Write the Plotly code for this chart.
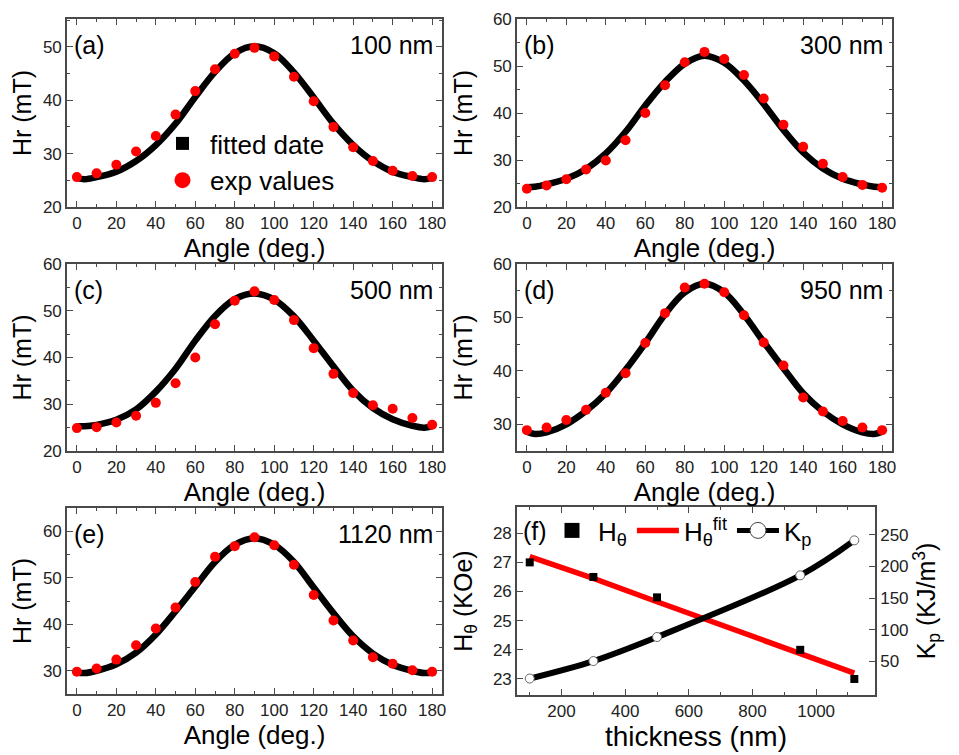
import plotly.graph_objects as go

# ---------------- data ----------------
angles = list(range(0, 181, 10))
fit_angles = [0, 4] + list(range(10, 171, 10)) + [176, 180]

exp_a = [25.6, 26.3, 27.9, 30.4, 33.3, 37.3, 41.7, 45.8, 48.7, 49.8, 48.2, 44.4, 39.8, 35.0, 31.2, 28.6, 26.8, 25.8, 25.6]
fit_a = [25.4, 25.2, 25.6, 26.6, 28.6, 31.6, 35.6, 40.6, 45.3, 48.8, 50.1, 48.8, 45.2, 40.5, 35.6, 31.6, 28.6, 26.6, 25.6, 25.2, 25.4]

exp_b = [23.9, 24.6, 25.9, 28.0, 29.9, 34.2, 40.0, 45.9, 50.8, 53.0, 51.5, 48.1, 43.1, 37.5, 32.8, 29.2, 26.4, 24.7, 24.1]
fit_b = [24.2, 24.3, 24.8, 26.0, 28.1, 31.4, 36.0, 41.6, 46.6, 50.5, 52.2, 50.7, 46.9, 41.9, 36.4, 31.6, 28.2, 26.0, 24.8, 24.3, 24.2]

exp_c = [24.9, 25.1, 26.1, 27.55, 30.3, 34.5, 40.0, 47.1, 52.15, 54.15, 52.3, 48.0, 42.0, 36.5, 32.4, 29.8, 29.05, 27.05, 25.6]
fit_c = [25.3, 25.3, 25.6, 26.7, 28.9, 32.7, 37.6, 43.6, 48.9, 52.5, 53.7, 52.4, 48.8, 43.6, 38.1, 32.9, 29.2, 26.8, 25.4, 25.0, 25.3]

exp_d = [28.9, 29.4, 30.8, 32.7, 35.9, 39.55, 45.2, 50.8, 55.6, 56.3, 54.7, 50.4, 45.3, 41.0, 35.0, 32.4, 30.6, 29.4, 28.9]
fit_d = [28.6, 28.2, 28.5, 30.0, 32.5, 35.8, 40.2, 45.2, 50.6, 54.7, 56.3, 54.7, 50.5, 45.4, 40.5, 35.8, 32.4, 30.0, 28.5, 28.2, 28.6]

exp_e = [29.8, 30.5, 32.4, 35.5, 39.1, 43.6, 49.1, 54.5, 56.8, 58.7, 57.0, 52.8, 46.3, 40.8, 36.5, 32.9, 31.5, 30.1, 29.8]
fit_e = [29.6, 29.5, 30.0, 31.4, 33.9, 37.8, 42.8, 48.1, 53.4, 57.1, 58.5, 57.1, 53.4, 47.9, 42.4, 37.4, 33.7, 31.3, 30.0, 29.5, 29.6]

thickness = [100, 300, 500, 950, 1120]
h_theta = [27.0, 26.5, 25.8, 24.0, 23.0]
h_theta_fit = [27.2, 26.45, 25.65, 23.85, 23.2]
kp = [23, 50.6, 88.6, 186, 241.3]

panel_labels = ["(a)", "(b)", "(c)", "(d)", "(e)", "(f)"]
thick_labels = ["100 nm", "300 nm", "500 nm", "950 nm", "1120 nm"]

# ---------------- layout helpers ----------------
W, H = 959, 755
FONT = "Liberation Sans, Arial, sans-serif"
FRAME = "#4a4a4a"


def px(x):
    return x / W


def py(y):
    return 1 - y / H


panels = [
    dict(xd=(67, 442), yd=(19, 207), yr=[20, 55.2], yt=[20, 30, 40, 50], exp=exp_a, fit=fit_a, tstand=4),
    dict(xd=(517, 892), yd=(19, 207), yr=[20, 60], yt=[20, 30, 40, 50, 60], exp=exp_b, fit=fit_b, tstand=13),
    dict(xd=(67, 442), yd=(264, 451), yr=[20, 60], yt=[20, 30, 40, 50, 60], exp=exp_c, fit=fit_c, tstand=4),
    dict(xd=(517, 892), yd=(264, 451), yr=[25, 60], yt=[30, 40, 50, 60], exp=exp_d, fit=fit_d, tstand=13),
    dict(xd=(67, 442), yd=(508, 694), yr=[25, 65], yt=[30, 40, 50, 60], exp=exp_e, fit=fit_e, tstand=4),
]

fig = go.Figure()
layout = dict(
    width=W, height=H,
    margin=dict(l=0, r=0, t=0, b=0, autoexpand=False),
    paper_bgcolor="white", plot_bgcolor="white",
    font=dict(family=FONT, color="black"),
    annotations=[],
)

axis_common = dict(
    automargin=False,
    showline=True, linecolor=FRAME, linewidth=1.6, mirror="ticks",
    ticks="inside", ticklen=6, tickwidth=1.3, tickcolor=FRAME,
    showgrid=False, zeroline=False,
    tickfont=dict(family=FONT, size=17, color="#222"),
)

for i, p in enumerate(panels):
    n = i + 1
    xa = "xaxis" if n == 1 else f"xaxis{n}"
    ya = "yaxis" if n == 1 else f"yaxis{n}"
    xr = "x" if n == 1 else f"x{n}"
    yr = "y" if n == 1 else f"y{n}"
    layout[xa] = dict(
        axis_common,
        domain=[px(p["xd"][0]), px(p["xd"][1])],
        anchor=yr, range=[-5, 185],
        tickvals=list(range(0, 181, 20)),
        minor=dict(dtick=10, tick0=0, ticks="inside", ticklen=3, tickcolor=FRAME),
        title=dict(text="Angle (deg.)", font=dict(family=FONT, size=26), standoff=6),
    )
    layout[ya] = dict(
        axis_common,
        domain=[py(p["yd"][1]), py(p["yd"][0])],
        anchor=xr, range=p["yr"], tickvals=p["yt"],
        minor=dict(dtick=5, tick0=0, ticks="inside", ticklen=3, tickcolor=FRAME),
        title=dict(text="Hr (mT)", font=dict(family=FONT, size=25), standoff=p["tstand"]),
    )
    fig.add_trace(go.Scatter(
        x=fit_angles, y=p["fit"], mode="lines",
        line=dict(color="black", width=6.5, shape="spline"),
        showlegend=False, xaxis=xr, yaxis=yr, hoverinfo="skip",
    ))
    fig.add_trace(go.Scatter(
        x=angles, y=p["exp"], mode="markers",
        marker=dict(color="#ff0000", size=10, symbol="circle"),
        showlegend=False, xaxis=xr, yaxis=yr,
    ))
    # panel label and thickness label
    layout["annotations"].append(dict(
        text=panel_labels[i], xref="paper", yref="paper",
        x=px(p["xd"][0] + 5), y=py(p["yd"][0] + 26), xanchor="left", yanchor="middle",
        showarrow=False, font=dict(family=FONT, size=25, color="black"),
    ))
    layout["annotations"].append(dict(
        text=thick_labels[i], xref="paper", yref="paper",
        x=px(p["xd"][1] - 7), y=py(p["yd"][0] + 26), xanchor="right", yanchor="middle",
        showarrow=False, font=dict(family=FONT, size=25, color="black"),
    ))

# legend entries for panel (a)
fig.add_trace(go.Scatter(
    x=[None], y=[None], mode="markers", name="fitted date",
    marker=dict(symbol="square", size=13, color="black"),
    xaxis="x", yaxis="y", legend="legend",
))
fig.add_trace(go.Scatter(
    x=[None], y=[None], mode="markers", name="exp values",
    marker=dict(symbol="circle", size=22, color="#ff0000"),
    xaxis="x", yaxis="y", legend="legend",
))

# ---------------- panel (f) ----------------
layout["xaxis6"] = dict(
    axis_common,
    domain=[px(517), px(875)], anchor="y6", range=[60, 1185],
    tickvals=[200, 400, 600, 800, 1000],
    minor=dict(dtick=100, tick0=0, ticks="inside", ticklen=3, tickcolor=FRAME),
    title=dict(text="thickness (nm)", font=dict(family=FONT, size=28), standoff=6),
)
layout["yaxis6"] = dict(
    axis_common, mirror=False,
    domain=[py(695), py(507)], anchor="x6", range=[22.45, 28.9],
    tickvals=[23, 24, 25, 26, 27, 28],
    title=dict(text="H<sub>θ</sub> (KOe)", font=dict(family=FONT, size=25), standoff=13),
)
layout["yaxis7"] = dict(
    axis_common, mirror=False,
    overlaying="y6", side="right", anchor="x6", range=[-3, 294],
    tickvals=[50, 100, 150, 200, 250],
    title=dict(text="K<sub>p</sub> (KJ/m<sup>3</sup>)", font=dict(family=FONT, size=25), standoff=8),
)

fig.add_trace(go.Scatter(
    x=thickness, y=h_theta_fit, mode="lines", name="H<sub>θ</sub><sup>fit</sup>",
    line=dict(color="#ff0000", width=5.5), xaxis="x6", yaxis="y6",
    legend="legend2", legendrank=2,
))
fig.add_trace(go.Scatter(
    x=thickness, y=h_theta, mode="markers", showlegend=False,
    marker=dict(symbol="square", size=8, color="black"), xaxis="x6", yaxis="y6",
))
fig.add_trace(go.Scatter(
    x=thickness, y=kp, mode="lines+markers", showlegend=False,
    line=dict(color="black", width=6, shape="spline"),
    marker=dict(symbol="circle", size=9, color="white", line=dict(color="#666", width=1)),
    xaxis="x6", yaxis="y7",
))
fig.add_trace(go.Scatter(
    x=[None], y=[None], mode="markers", name="H<sub>θ</sub>",
    marker=dict(symbol="square", size=15, color="black"),
    xaxis="x6", yaxis="y6", legend="legend2", legendrank=1,
))
fig.add_trace(go.Scatter(
    x=[None], y=[None], mode="lines+markers", name="K<sub>p</sub>",
    line=dict(color="black", width=5),
    marker=dict(symbol="circle", size=16, color="white", line=dict(color="#444", width=1)),
    xaxis="x6", yaxis="y7", legend="legend2", legendrank=3,
))

layout["annotations"].append(dict(
    text=panel_labels[5], xref="paper", yref="paper",
    x=px(521), y=py(531), xanchor="left", yanchor="middle",
    showarrow=False, font=dict(family=FONT, size=25, color="black"),
))

layout["legend"] = dict(
    x=px(155), y=py(120), xanchor="left", yanchor="top",
    bgcolor="rgba(0,0,0,0)", borderwidth=0, itemwidth=45,
    font=dict(family=FONT, size=26, color="black"),
    tracegroupgap=0,
)
layout["legend2"] = dict(
    x=px(546), y=py(507), xanchor="left", yanchor="top", orientation="h",
    bgcolor="rgba(0,0,0,0)", borderwidth=0, itemwidth=42,
    font=dict(family=FONT, size=26, color="black"),
)

fig.update_layout(**layout)
fig.write_html(
    "out.html",
    config={"displayModeBar": False},
    post_script="document.body.style.margin='0';document.body.style.overflow='hidden';",
)
